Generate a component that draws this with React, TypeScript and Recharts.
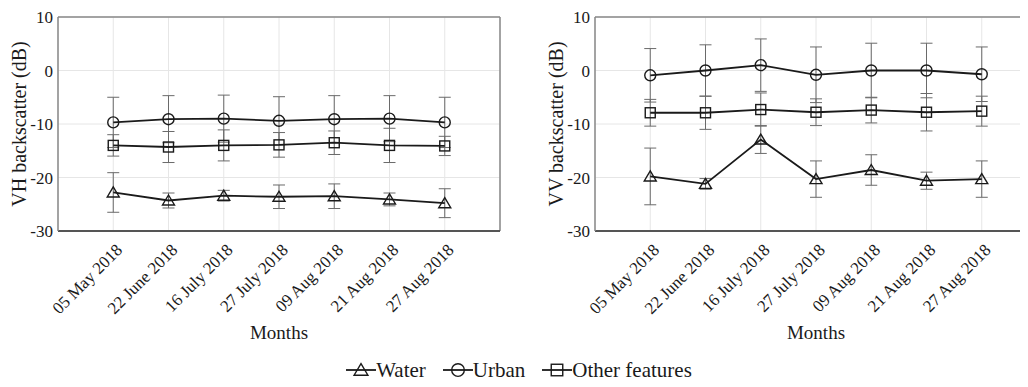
import React from 'react';
import { LineChart, Line, XAxis, YAxis, CartesianGrid, ErrorBar, ReferenceLine, Legend } from 'recharts';

const dates = ['05 May 2018', '22 June 2018', '16 July 2018', '27 July 2018', '09 Aug 2018', '21 Aug 2018', '27 Aug 2018'];
const yTicks = [-30, -20, -10, 0, 10];

// VH polarisation
const vhWater = [-22.8, -24.3, -23.4, -23.6, -23.5, -24.1, -24.8];
const vhWaterErr = [3.7, 1.4, 1.0, 2.2, 2.3, 1.2, 2.7];
const vhUrban = [-9.7, -9.1, -9.0, -9.4, -9.1, -9.0, -9.7];
const vhUrbanErr = [4.7, 4.4, 4.4, 4.5, 4.4, 4.3, 4.7];
const vhOther = [-14.0, -14.3, -14.0, -13.9, -13.5, -14.0, -14.1];
const vhOtherErr = [2.0, 2.9, 2.9, 2.3, 2.2, 3.2, 1.8];

// VV polarisation
const vvWater = [-19.8, -21.2, -12.9, -20.3, -18.6, -20.6, -20.3];
const vvWaterErr = [5.3, 1.0, 2.6, 3.4, 2.85, 1.6, 3.4];
const vvUrban = [-0.9, 0.0, 1.0, -0.8, 0.0, 0.0, -0.7];
const vvUrbanErr = [5.0, 4.8, 4.9, 5.2, 5.1, 5.1, 5.1];
const vvOther = [-7.9, -7.9, -7.3, -7.8, -7.4, -7.8, -7.6];
const vvOtherErr = [2.5, 3.1, 3.1, 2.5, 2.4, 3.5, 2.8];

const buildRows = (water, waterErr, urban, urbanErr, other, otherErr) =>
  dates.map((d, i) => ({
    i,
    water: water[i], waterErr: waterErr[i],
    urban: urban[i], urbanErr: urbanErr[i],
    other: other[i], otherErr: otherErr[i],
  }));

const vhData = buildRows(vhWater, vhWaterErr, vhUrban, vhUrbanErr, vhOther, vhOtherErr);
const vvData = buildRows(vvWater, vvWaterErr, vvUrban, vvUrbanErr, vvOther, vvOtherErr);

const FONT = '"Liberation Serif", "Times New Roman", serif';
const INK = '#1a1a1a';

const Marker = ({ kind, cx, cy, s = 1 }) => {
  if (kind === 'water') {
    return <path d={`M${cx},${cy - 5.5 * s}L${cx + 6 * s},${cy + 4.5 * s}L${cx - 6 * s},${cy + 4.5 * s}Z`} fill="none" stroke={INK} strokeWidth={1.4} />;
  }
  if (kind === 'urban') {
    return <circle cx={cx} cy={cy} r={5.5 * s} fill="none" stroke={INK} strokeWidth={1.4} />;
  }
  return <rect x={cx - 5 * s} y={cy - 5 * s} width={10 * s} height={10 * s} fill="none" stroke={INK} strokeWidth={1.4} />;
};

const dotFor = (kind) => (p) => <Marker key={`${kind}-${p.index}`} kind={kind} cx={p.cx} cy={p.cy} />;

const DateTick = ({ x, y, payload }) => (
  <g transform={`translate(${x + 10},${y + 20})`}>
    <text textAnchor="end" transform="rotate(-45)" fontSize={17} fontFamily={FONT} fill={INK}>
      {dates[payload.value]}
    </text>
  </g>
);

const LegendContent = () => {
  const items = [
    { kind: 'water', label: 'Water' },
    { kind: 'urban', label: 'Urban' },
    { kind: 'other', label: 'Other features' },
  ];
  return (
    <div style={{ display: 'flex', justifyContent: 'center', gap: 17, paddingLeft: 10, fontFamily: FONT, fontSize: 21, lineHeight: '22px', color: INK }}>
      {items.map((it) => (
        <div key={it.kind} style={{ display: 'flex', alignItems: 'center' }}>
          <svg width={30} height={18}>
            <line x1={0} y1={9} x2={30} y2={9} stroke={INK} strokeWidth={1.8} />
            <Marker kind={it.kind} cx={15} cy={9} s={1.15} />
          </svg>
          <span>{it.label}</span>
        </div>
      ))}
    </div>
  );
};

const Panel = ({ data, yLabel, withLegend }) => (
  <LineChart width={514} height={387} data={data} margin={{ top: 17, right: 14, left: 0, bottom: 0 }}>
    <CartesianGrid stroke="#e6e6e6" strokeWidth={1} />
    <XAxis
      type="number"
      dataKey="i"
      domain={[-1, 7]}
      ticks={[0, 1, 2, 3, 4, 5, 6]}
      interval={0}
      height={156}
      tickSize={0}
      tickMargin={0}
      tickLine={false}
      axisLine={{ stroke: '#555', strokeWidth: 2 }}
      tick={<DateTick />}
      label={{
        content: ({ viewBox }) => (
          <text x={viewBox.x + viewBox.width / 2} y={viewBox.y + 108} textAnchor="middle" fontSize={19} fontFamily={FONT} fill={INK}>
            Months
          </text>
        ),
      }}
    />
    <YAxis
      type="number"
      domain={[-30, 10]}
      ticks={yTicks}
      width={58}
      tickSize={0}
      tickMargin={5}
      tickLine={false}
      axisLine={{ stroke: '#888', strokeWidth: 1.5 }}
      tick={{ fontSize: 17, fontFamily: FONT, fill: INK }}
      label={{
        content: ({ viewBox }) => (
          <text
            x={26}
            y={viewBox.y + viewBox.height / 2}
            transform={`rotate(-90, 26, ${viewBox.y + viewBox.height / 2})`}
            textAnchor="middle"
            fontSize={20}
            fontFamily={FONT}
            fill={INK}
          >
            {yLabel}
          </text>
        ),
      }}
    />
    <ReferenceLine y={10} stroke="#888" strokeWidth={1.5} />
    <ReferenceLine x={7} stroke="#888" strokeWidth={1.5} />
    <Line dataKey="water" name="Water" stroke={INK} strokeWidth={1.8} dot={dotFor('water')} activeDot={false} isAnimationActive={false}>
      <ErrorBar dataKey="waterErr" direction="y" width={6} stroke="#6a6a6a" strokeWidth={1} />
    </Line>
    <Line dataKey="urban" name="Urban" stroke={INK} strokeWidth={1.8} dot={dotFor('urban')} activeDot={false} isAnimationActive={false}>
      <ErrorBar dataKey="urbanErr" direction="y" width={6} stroke="#6a6a6a" strokeWidth={1} />
    </Line>
    <Line dataKey="other" name="Other features" stroke={INK} strokeWidth={1.8} dot={dotFor('other')} activeDot={false} isAnimationActive={false}>
      <ErrorBar dataKey="otherErr" direction="y" width={6} stroke="#6a6a6a" strokeWidth={1} />
    </Line>
    {withLegend && (
      <Legend
        layout="horizontal"
        verticalAlign="middle"
        content={<LegendContent />}
        wrapperStyle={{ position: 'absolute', left: 0, top: 359, width: 1028 }}
      />
    )}
  </LineChart>
);

export default function App() {
  return (
    <div style={{ position: 'relative', width: 1028, height: 387, margin: -8, overflow: 'hidden', background: '#fff' }}>
      <div style={{ position: 'absolute', left: 537, top: 0 }}>
        <Panel data={vvData} yLabel="VV backscatter (dB)" withLegend={false} />
      </div>
      <div style={{ position: 'absolute', left: 0, top: 0 }}>
        <Panel data={vhData} yLabel="VH backscatter (dB)" withLegend={true} />
      </div>
    </div>
  );
}
